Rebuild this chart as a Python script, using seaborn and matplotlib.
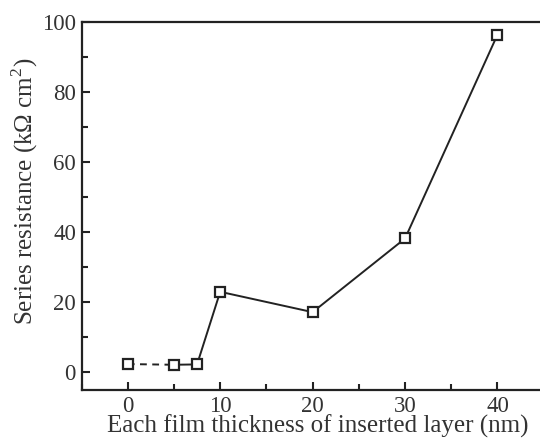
import matplotlib
matplotlib.use('Agg')
import matplotlib.pyplot as plt
import seaborn as sns
import pandas as pd
from matplotlib.ticker import MultipleLocator

# thickness (nm) and series resistance (kOhm cm^2)
thickness = [0, 5, 7.5, 10, 20, 30, 40]
resistance = [2.4, 2.2, 2.3, 23.0, 17.2, 38.2, 96.3]
x_ticks = [0, 10, 20, 30, 40]
y_ticks = [0, 20, 40, 60, 80, 100]

data = pd.DataFrame({'thickness': thickness, 'resistance': resistance})
dashed_part = data.iloc[:2]
solid_part = data.iloc[1:]

sns.set_style('ticks')
plt.rcParams['font.family'] = ['Liberation Serif', 'DejaVu Serif']
plt.rcParams['mathtext.fontset'] = 'custom'
plt.rcParams['mathtext.rm'] = 'Liberation Serif'

fig = plt.figure(figsize=(5.4, 4.41), dpi=100)
ax = fig.add_axes([0.151, 0.1156, 0.849, 0.8352])

line_col = '#222222'
sns.lineplot(data=dashed_part, x='thickness', y='resistance', ax=ax,
             color=line_col, linewidth=1.4, linestyle=(0, (3.5, 2.8)))
sns.lineplot(data=solid_part, x='thickness', y='resistance', ax=ax,
             color=line_col, linewidth=1.4)
ax.plot(data['thickness'], data['resistance'], linestyle='none', marker='s',
        markersize=6.5, markerfacecolor='white', markeredgecolor=line_col,
        markeredgewidth=1.6, zorder=5)

ax.set_xlim(-5, 44.6)
ax.set_ylim(-5, 100)
ax.set_xticks(x_ticks)
ax.set_yticks(y_ticks)
ax.xaxis.set_minor_locator(MultipleLocator(5))
ax.yaxis.set_minor_locator(MultipleLocator(10))
ax.tick_params(which='both', direction='in', width=1.5, color=line_col,
               labelsize=16.5, labelcolor='#333333', top=False, right=False)
ax.tick_params(which='major', length=6, pad=4)
ax.tick_params(which='minor', length=4)

for side in ['left', 'bottom', 'top']:
    ax.spines[side].set_linewidth(1.6)
    ax.spines[side].set_color(line_col)
ax.spines['right'].set_visible(False)

ax.set_xlabel('Each film thickness of inserted layer (nm)', fontsize=18,
              color='#333333')
ax.set_ylabel(r'Series resistance (k$\Omega$ cm$^2$)', fontsize=18,
              color='#333333')
ax.xaxis.set_label_coords(0.516, -0.068)
ax.yaxis.set_label_coords(-0.09, 0.54)

fig.savefig('out.png', dpi=100)
